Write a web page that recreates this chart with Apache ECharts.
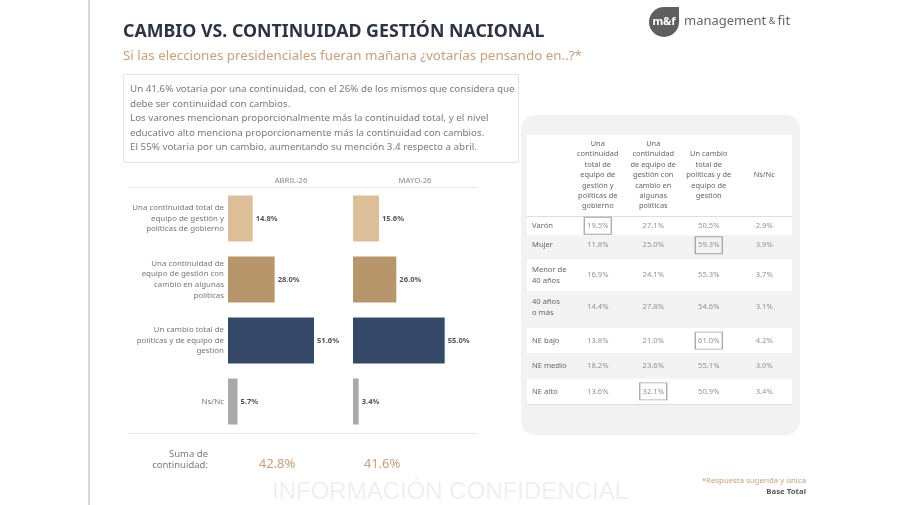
<!DOCTYPE html>
<html><head><meta charset="utf-8">
<script src="https://cdn.jsdelivr.net/npm/echarts@6/dist/echarts.min.js"></script>
<style>html,body{margin:0;padding:0;background:#fff}#c{width:900px;height:505px}</style>
</head><body><div id="c"></div><script>
// ---- DATA ----
const barCategories = [
  'Una continuidad total de\nequipo de gestión y\npolíticas de gobierno',
  'Una continuidad de\nequipo de gestión con\ncambio en algunas\npolíticas',
  'Un cambio total de\npolíticas y de equipo de\ngestión',
  'Ns/Nc'
];
const periods = ['ABRIL-26', 'MAYO-26'];
const abril = [14.8, 28.0, 51.6, 5.7];
const mayo = [15.6, 26.0, 55.0, 3.4];
const sumaContinuidad = [42.8, 41.6];

const tableColumns = [
  'Una\ncontinuidad\ntotal de\nequipo de\ngestión y\npolíticas de\ngobierno',
  'Una\ncontinuidad\nde equipo de\ngestión con\ncambio en\nalgunas\npolíticas',
  'Un cambio\ntotal de\npolíticas y de\nequipo de\ngestión',
  'Ns/Nc'
];
const tableRows = ['Varón', 'Mujer', 'Menor de\n40 años', '40 años\no más', 'NE bajo', 'NE medio', 'NE alto'];
const colTotal   = [19.5, 11.8, 16.9, 14.4, 13.8, 18.2, 13.6];
const colParcial = [27.1, 25.0, 24.1, 27.8, 21.0, 23.6, 32.1];
const colCambio  = [50.5, 59.3, 55.3, 54.6, 61.0, 55.1, 50.9];
const colNsNc    = [2.9, 3.9, 3.7, 3.1, 4.2, 3.0, 3.4];
const rowGroups = [[0, 2], [2, 4], [4, 7]];
const highlights = [[0, 0], [2, 1], [2, 4], [1, 6]]; // [column, row]

// ---- STYLE ----
const barColors = ['#dcbf98', '#b8966b', '#364867', '#a9a9a9'];
const tan = '#c4a27c';
const FONT = 'Noto Sans';
const tableGeom = [{ top: 216, height: 39 }, { top: 259, height: 64 }, { top: 328, height: 76 }];

const chart = echarts.init(document.getElementById('c'), null, { renderer: 'canvas' });

const grids = [
  { left: 228, top: 188, width: 100, height: 244 },
  { left: 353, top: 188, width: 100, height: 244 }
];
const xAxes = [
  { gridIndex: 0, type: 'value', min: 0, max: 60, show: false },
  { gridIndex: 1, type: 'value', min: 0, max: 60, show: false }
];
const yAxes = [
  { gridIndex: 0, type: 'category', data: barCategories, inverse: true,
    axisLine: { show: false }, axisTick: { show: false },
    axisLabel: { align: 'right', margin: 4, fontSize: 7.9, lineHeight: 10.7, color: '#777', fontFamily: FONT } },
  { gridIndex: 1, type: 'category', data: barCategories, inverse: true, show: false }
];
const series = [];
[abril, mayo].forEach((arr, k) => {
  series.push({
    type: 'bar', xAxisIndex: k, yAxisIndex: k, barWidth: 46,
    data: arr.map((v, i) => ({ value: v, itemStyle: { color: barColors[i] } })),
    label: { show: true, position: 'right', distance: 3, formatter: p => p.value.toFixed(1) + '%',
      fontSize: 7.6, fontWeight: 'bold', color: '#555', fontFamily: FONT }
  });
});

const cols = [colTotal, colParcial, colCambio, colNsNc];
// table background grids (full width incl. row labels)
rowGroups.forEach((g, gi) => {
  const rows = tableRows.slice(g[0], g[1]);
  const geo = tableGeom[gi];
  grids.push({ left: 527, width: 265, top: geo.top, height: geo.height });
  const gIdx = grids.length - 1;
  xAxes.push({ gridIndex: gIdx, type: 'value', min: 0, max: 1, position: gi === 2 ? 'bottom' : 'top',
    axisLine: { show: gi !== 1, lineStyle: { color: '#dedede', width: 1 } },
    axisTick: { show: false }, axisLabel: { show: false }, splitLine: { show: false } });
  yAxes.push({ gridIndex: gIdx, type: 'category', data: rows, inverse: true,
    axisLine: { show: false }, axisTick: { show: false },
    axisLabel: { inside: true, align: 'left', margin: 5, fontSize: 7.6, lineHeight: 11, color: '#666', fontFamily: FONT },
    splitLine: { show: false },
    splitArea: { show: true, areaStyle: { color: ['#ffffff', '#f3f3f3'] } } });
});
// table data grids
rowGroups.forEach((g, gi) => {
  const rows = tableRows.slice(g[0], g[1]);
  const geo = tableGeom[gi];
  grids.push({ left: 570, width: 222, top: geo.top, height: geo.height });
  const gIdx = grids.length - 1;
  xAxes.push({ gridIndex: gIdx, type: 'category', data: tableColumns, position: 'top',
    axisLine: { show: false }, axisTick: { show: false }, splitLine: { show: false },
    axisLabel: { show: gi === 0, interval: 0, margin: 41, verticalAlign: 'middle', fontSize: 7.4, lineHeight: 10.4,
      color: '#666', fontFamily: FONT } });
  const xi = xAxes.length - 1;
  yAxes.push({ gridIndex: gIdx, type: 'category', data: rows, inverse: true, show: false });
  const yi = yAxes.length - 1;
  const data = [];
  for (let r = g[0]; r < g[1]; r++) {
    cols.forEach((arr, c) => data.push({ value: [c, r - g[0], arr[r]] }));
  }
  series.push({
    type: 'scatter', xAxisIndex: xi, yAxisIndex: yi, symbolSize: 1, silent: true,
    itemStyle: { color: 'rgba(0,0,0,0)' },
    label: { show: true, position: 'inside', formatter: p => p.value[2].toFixed(1) + '%',
      fontSize: 7.6, color: '#777', fontFamily: FONT },
    data
  });
  const hl = highlights.filter(h => h[1] >= g[0] && h[1] < g[1]).map(h => [h[0], h[1] - g[0]]);
  series.push({
    type: 'scatter', xAxisIndex: xi, yAxisIndex: yi, symbol: 'rect', symbolSize: [27, 17], silent: true,
    itemStyle: { color: 'rgba(0,0,0,0)', borderColor: '#8c8c8c', borderWidth: 1 },
    data: hl
  });
});

const graphic = [
  // page divider
  { type: 'line', z: -20, shape: { x1: 89, y1: 0, x2: 89, y2: 505 }, style: { stroke: '#c9c9c9', lineWidth: 1.5 } },
  // title
  { type: 'text', x: 123, y: 32, style: { text: 'CAMBIO VS. CONTINUIDAD GESTIÓN NACIONAL', fill: '#2e3542',
    font: 'bold 17.8px "' + FONT + '"', verticalAlign: 'middle' } },
  { type: 'text', x: 123, y: 56, style: { text: 'Si las elecciones presidenciales fueran mañana ¿votarías pensando en..?*', fill: tan,
    font: '13.4px "' + FONT + '"', verticalAlign: 'middle' } },
  // text box
  { type: 'rect', shape: { x: 123.5, y: 74.5, width: 395, height: 88 }, style: { fill: 'none', stroke: '#e4e4e4', lineWidth: 1 } },
  { type: 'text', x: 130, y: 82, style: {
    text: 'Un 41.6% votaria por una continuidad, con el 26% de los mismos que considera que\ndebe ser continuidad con cambios.\nLos varones mencionan proporcionalmente más la continuidad total, y el nivel\neducativo alto menciona proporcionamente más la continuidad con cambios.\nEl 55% votaria por un cambio, aumentando su mención 3.4 respecto a abril.',
    fill: '#7a7a7a', font: '9.8px "' + FONT + '"', lineHeight: 14.5 } },
  // bar chart headers & lines
  { type: 'line', shape: { x1: 128, y1: 187.5, x2: 477, y2: 187.5 }, style: { stroke: '#e6e6e6', lineWidth: 1 } },
  { type: 'line', shape: { x1: 128, y1: 433.5, x2: 477, y2: 433.5 }, style: { stroke: '#e6e6e6', lineWidth: 1 } },
  { type: 'text', x: 291, y: 181, style: { text: periods[0], fill: '#888', font: '7.7px "' + FONT + '"', align: 'center', verticalAlign: 'middle' } },
  { type: 'text', x: 415, y: 181, style: { text: periods[1], fill: '#888', font: '7.7px "' + FONT + '"', align: 'center', verticalAlign: 'middle' } },
  { type: 'text', x: 208, y: 460, style: { text: 'Suma de\ncontinuidad:', fill: '#7a7a7a', font: '9.5px "' + FONT + '"', align: 'right', verticalAlign: 'middle', lineHeight: 11.5 } },
  { type: 'text', x: 277, y: 464, style: { text: sumaContinuidad[0].toFixed(1) + '%', fill: tan, font: '13px "' + FONT + '"', align: 'center', verticalAlign: 'middle' } },
  { type: 'text', x: 382, y: 464, style: { text: sumaContinuidad[1].toFixed(1) + '%', fill: tan, font: '13px "' + FONT + '"', align: 'center', verticalAlign: 'middle' } },
  // table panel
  { type: 'rect', z: -10, shape: { x: 521, y: 115, width: 279, height: 320, r: 14 }, style: { fill: '#f2f2f2' } },
  { type: 'rect', z: -9, shape: { x: 527, y: 135, width: 265, height: 81 }, style: { fill: '#ffffff' } },
  // logo
  { type: 'circle', shape: { cx: 664, cy: 22, r: 15 }, style: { fill: '#5f5f5f' } },
  { type: 'rect', shape: { x: 664, y: 7, width: 15, height: 15 }, style: { fill: '#5f5f5f' } },
  { type: 'text', x: 664, y: 22, style: { text: 'm&f', fill: '#fff', font: 'bold 11px "' + FONT + '"', align: 'center', verticalAlign: 'middle' } },
  { type: 'text', x: 684, y: 21, style: { text: '{a|management}{b| & }{a|fit}', verticalAlign: 'middle',
    rich: { a: { fill: '#666', font: '13px "' + FONT + '"' }, b: { fill: '#666', font: '9px "' + FONT + '"' } } } },
  // footer
  { type: 'text', x: 806, y: 481, style: { text: '*Respuesta sugerida y única', fill: tan, font: '7.8px "' + FONT + '"', align: 'right', verticalAlign: 'middle' } },
  { type: 'text', x: 806, y: 492, style: { text: 'Base Total', fill: '#555', font: 'bold 7.8px "' + FONT + '"', align: 'right', verticalAlign: 'middle' } },
  // watermark
  { type: 'text', x: 450, y: 492, style: { text: 'INFORMACIÓN CONFIDENCIAL', fill: '#efefef', font: '24px "Liberation Sans"', align: 'center', verticalAlign: 'middle' } }
];

chart.setOption({
  animation: false,
  backgroundColor: '#ffffff',
  textStyle: { fontFamily: FONT },
  grid: grids, xAxis: xAxes, yAxis: yAxes, series, graphic
});
</script></body></html>
